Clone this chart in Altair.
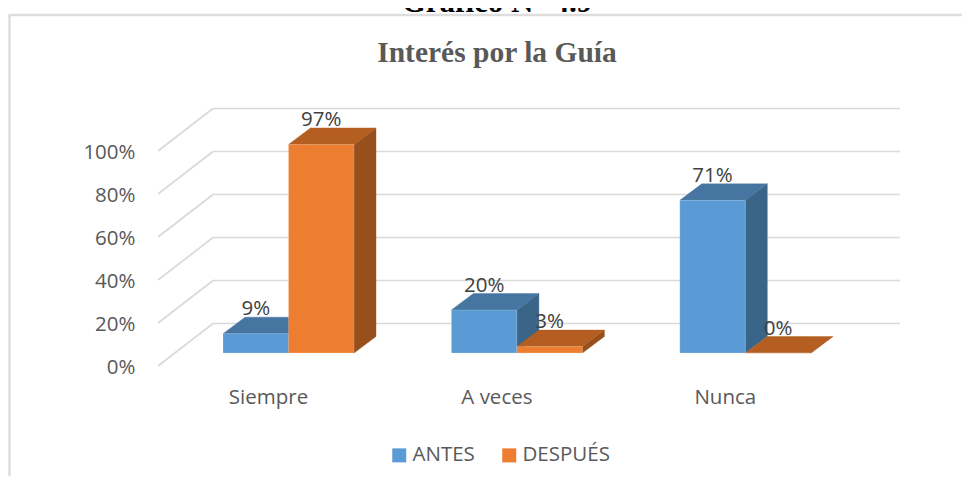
import altair as alt
import pandas as pd

categories = ["Siempre", "A veces", "Nunca"]
antes = [9, 20, 71]
despues = [97, 3, 0]
series_names = ["ANTES", "DESPUÉS"]
y_ticks = [0, 20, 40, 60, 80, 100]

FONT = "Open Sans"
SERIF = "Liberation Serif"
W, H = 954, 468
PX_CAT = 229.0      # pixels per category
PX_PCT = 2.15       # pixels per percent
X0, Y0 = 150.0, 358.0  # view position of front floor corner

x_dom = [-X0 / PX_CAT, (W - X0) / PX_CAT]
y_dom = [(Y0 - H) / PX_PCT, Y0 / PX_PCT]
xs = alt.Scale(domain=x_dom, range=[0, W], nice=False, zero=False)
ys = alt.Scale(domain=y_dom, range=[H, 0], nice=False, zero=False)

WALL_DX, WALL_DY = 55 / PX_CAT, 42.5 / PX_PCT
BAR_DX, BAR_DY = 22 / PX_CAT, 16.5 / PX_PCT
FLOOR_DY = 13 / PX_PCT
BAR_START, BAR_W = 65 / PX_CAT, 65.5 / PX_CAT
SLOT = 228.4 / PX_CAT

palette = {
    "ANTES": dict(front="#5B9BD5", top="#4575A0", side="#3A6488"),
    "DESPUÉS": dict(front="#ED7D31", top="#B45E21", side="#97501C"),
}

# ---- gridlines
grid = []
for v in y_ticks:
    grid.append(dict(x=0, x2=WALL_DX, y=v, y2=v + WALL_DY))
    grid.append(dict(x=WALL_DX, x2=3 + WALL_DX, y=v + WALL_DY, y2=v + WALL_DY))
grid_df = pd.DataFrame(grid)

# ---- bar faces
faces, fronts, labels = [], [], []
for s, (name, vals) in enumerate(zip(series_names, [antes, despues])):
    for c, v in enumerate(vals):
        a = c * SLOT + BAR_START + s * BAR_W
        b = a + BAR_W
        t = v + FLOOR_DY
        f = FLOOR_DY
        fid = f"{s}-{c}"
        col = palette[name]
        for px, lo, hi in [(b, f, t), (b + BAR_DX, f + BAR_DY, t + BAR_DY)]:
            faces.append(dict(id=fid + "-side", x=px, y=lo, y2=hi, c=col["side"]))
        for px, lo, hi in [(a, t, t), (a + BAR_DX, t, t + BAR_DY),
                           (b, t, t + BAR_DY), (b + BAR_DX, t + BAR_DY, t + BAR_DY)]:
            faces.append(dict(id=fid + "-top", x=px, y=lo, y2=hi, c=col["top"]))
        fronts.append(dict(x=a, x2=b, y=f, y2=t, serie=name))
        labels.append(dict(x=(a + b) / 2, y=t + BAR_DY, t=f"{v}%"))
faces_df = pd.DataFrame(faces)
fronts_df = pd.DataFrame(fronts)
labels_df = pd.DataFrame(labels)

cats_df = pd.DataFrame(dict(x=[i * SLOT + 110.5 / PX_CAT for i in range(3)], t=categories))
ticks_df = pd.DataFrame(dict(v=y_ticks))

X = lambda f: alt.X(f, type="quantitative", scale=xs, axis=None)
Y = lambda f: alt.Y(f, type="quantitative", scale=ys, axis=None)

frame_left = alt.Chart(pd.DataFrame(dict(a=[0]))).mark_rule(color="#DEDEDE", strokeWidth=2.5).encode(
    x=alt.value(1.5), y=alt.value(7), y2=alt.value(H))
frame_top = alt.Chart(pd.DataFrame(dict(a=[0]))).mark_rule(color="#DEDEDE", strokeWidth=2.5).encode(
    x=alt.value(0.5), x2=alt.value(W), y=alt.value(7))

grid_layer = alt.Chart(grid_df).mark_rule(color="#D9D9D9", strokeWidth=1.6).encode(
    x=X("x"), x2="x2", y=Y("y"), y2="y2")

axis_layer = alt.Chart(ticks_df).mark_point(opacity=0).encode(
    x=alt.value(0),
    y=alt.Y("v:Q", scale=ys, axis=alt.Axis(
        values=y_ticks, title=None, domain=False, ticks=False, grid=False,
        offset=-127, labelPadding=0, labelFont=FONT, labelFontSize=20.5, labelOffset=1.5,
        labelColor="#595959", labelExpr="datum.value + '%'")))

face_layer = alt.Chart(faces_df).mark_area(interpolate="linear", strokeWidth=0.4).encode(
    x=X("x"), y=Y("y"), y2="y2", detail="id:N",
    color=alt.Color("c:N", scale=None), stroke=alt.Stroke("c:N", scale=None))

front_layer = alt.Chart(fronts_df).mark_bar(strokeWidth=0.6, strokeOpacity=0.3, stroke="#FFFFFF").encode(
    x=X("x"), x2="x2", y=Y("y"), y2="y2",
    color=alt.Color("serie:N", scale=alt.Scale(
        domain=series_names, range=[palette[n]["front"] for n in series_names]),
        legend=alt.Legend(
            title=None, orient="none", legendX=381, legendY=437, direction="horizontal",
            symbolType="square", symbolSize=196, symbolStrokeWidth=0, labelFont=FONT,
            labelFontSize=20.5, labelColor="#595959", labelOffset=3, columnPadding=24,
            symbolOpacity=1)))

label_layer = alt.Chart(labels_df).mark_text(
    font=FONT, fontSize=20.5, color="#404040", baseline="alphabetic", dy=-2).encode(
    x=X("x"), y=Y("y"), text="t:N")

cat_layer = alt.Chart(cats_df).mark_text(
    font=FONT, fontSize=20.5, color="#595959", baseline="middle").encode(
    x=X("x"), y=alt.value(390), text="t:N")

title_layer = alt.Chart(pd.DataFrame(dict(t=["Interés por la Guía"]))).mark_text(
    font=SERIF, fontSize=29.5, fontWeight="bold", color="#595959", baseline="alphabetic").encode(
    x=alt.value(489), y=alt.value(54), text="t:N")

# The reference's header is cut by the picture's top edge; only its lowest pixels show.
header_layer = alt.Chart(pd.DataFrame(dict(t=["Gráfico N° 4.9"]))).mark_text(
    font=SERIF, fontSize=31, fontWeight="bold", color="#000000", baseline="alphabetic").encode(
    x=alt.value(489), y=alt.value(4), text="t:N")

chart = alt.layer(
    frame_left, frame_top, grid_layer, axis_layer, face_layer, front_layer,
    label_layer, cat_layer, title_layer, header_layer,
).resolve_scale(color="independent", stroke="independent").resolve_axis(y="independent").properties(
    width=W, height=H, padding=0,
    autosize=alt.AutoSizeParams(type="none"),
    background="#FFFFFF",
).configure_view(stroke=None)

chart.save("out.html", embed_options={"renderer": "svg", "actions": False})
